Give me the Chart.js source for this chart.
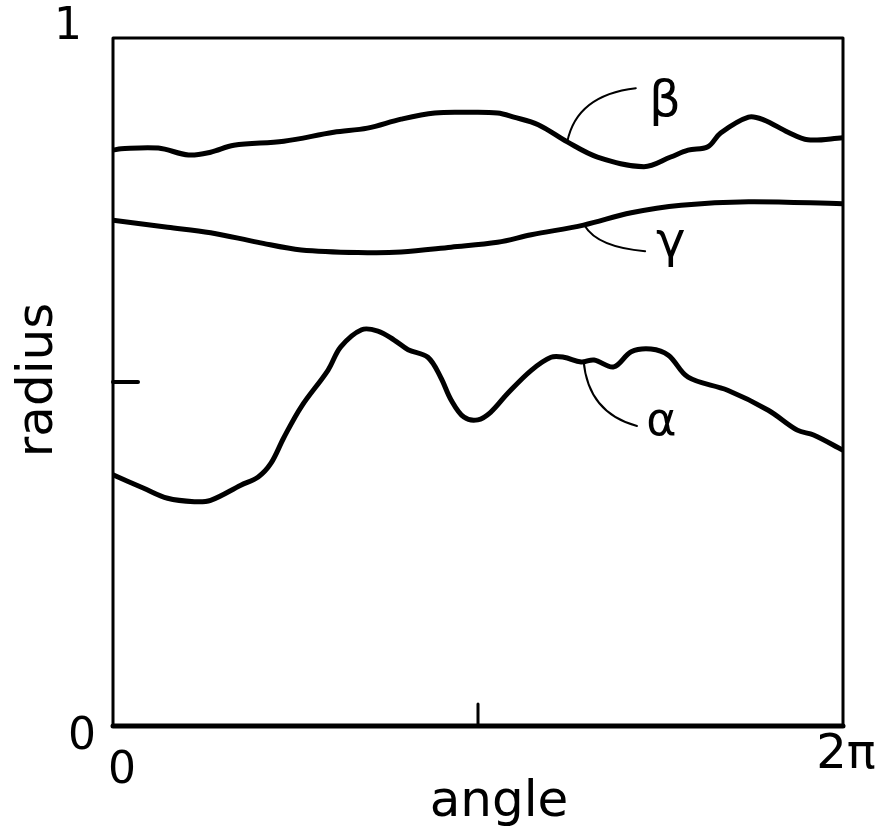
<!DOCTYPE html>
<html>
<head>
<meta charset="utf-8">
<script src="https://cdn.jsdelivr.net/npm/chart.js@4"></script>
<style>
  body { margin: 0; background: #fff; }
  #wrap { width: 885px; height: 831px; }
</style>
</head>
<body>
<div id="wrap"><canvas id="radiusChart" width="885" height="831"></canvas></div>
<script>
// values (angle in radians, radius 0..1)
const alphaAngle = [0, 0.26, 0.47, 0.70, 0.84, 1.10, 1.25, 1.36, 1.47, 1.62, 1.85, 1.96, 2.14, 2.28, 2.42, 2.54, 2.71, 2.82, 2.91, 3.02, 3.14, 3.25, 3.40, 3.60, 3.77, 3.88, 4.03, 4.14, 4.31, 4.46, 4.63, 4.78, 4.95, 5.29, 5.64, 5.89, 6.03, 6.28];
const alphaRadius = [0.365, 0.346, 0.331, 0.326, 0.328, 0.350, 0.362, 0.382, 0.419, 0.464, 0.517, 0.551, 0.576, 0.574, 0.561, 0.547, 0.536, 0.507, 0.474, 0.449, 0.445, 0.456, 0.484, 0.517, 0.536, 0.536, 0.529, 0.532, 0.522, 0.544, 0.548, 0.539, 0.507, 0.488, 0.459, 0.430, 0.423, 0.401];

const betaAngle = [0, 0.07, 0.39, 0.65, 0.84, 1.04, 1.47, 1.90, 2.19, 2.48, 2.77, 3.05, 3.31, 3.45, 3.66, 3.91, 4.17, 4.57, 4.80, 4.95, 5.12, 5.23, 5.47, 5.60, 5.81, 5.98, 6.28];
const betaRadius = [0.837, 0.839, 0.840, 0.830, 0.834, 0.844, 0.850, 0.863, 0.869, 0.882, 0.891, 0.892, 0.891, 0.885, 0.874, 0.849, 0.827, 0.813, 0.827, 0.837, 0.842, 0.862, 0.885, 0.881, 0.863, 0.852, 0.855];

const gammaAngle = [0, 0.47, 0.84, 1.25, 1.62, 2.19, 2.48, 2.91, 3.31, 3.60, 4.05, 4.46, 4.89, 5.47, 6.28];
const gammaRadius = [0.735, 0.725, 0.717, 0.703, 0.692, 0.688, 0.689, 0.696, 0.703, 0.714, 0.728, 0.746, 0.757, 0.762, 0.759];

const xTickValues = [0, Math.PI, 2 * Math.PI];
const xTickLabels = ['0', '', '2\u03C0'];
const yTickValues = [0, 0.5, 1];
const yTickLabels = ['0', '', '1'];

// curve names and the leader line to each: [start, control, end] in (angle, radius)
const curveNames = ['\u03B1', '\u03B2', '\u03B3'];
const leaders = [
    [[4.05, 0.531], [4.09, 0.455], [4.51, 0.436]],
    [[3.91, 0.849], [3.99, 0.917], [4.50, 0.927]],
    [[4.06, 0.727], [4.17, 0.696], [4.58, 0.690]]
];
const namePos = [[4.72, 0.440], [4.75, 0.906], [4.80, 0.700]];
const nameSize = [46, 50, 50];

const toPoints = (xs, ys) => xs.map((x, i) => ({ x: x, y: ys[i] }));
const FONT = '"DejaVu Sans", sans-serif';

const framePlugin = {
    id: 'frame',
    afterDatasetsDraw(chart) {
        const ctx = chart.ctx;
        const a = chart.chartArea;
        const xs = chart.scales.x;
        const ys = chart.scales.y;
        ctx.save();
        ctx.strokeStyle = '#000';
        ctx.lineCap = 'round';
        ctx.lineJoin = 'round';

        // box
        ctx.lineWidth = 3;
        ctx.beginPath();
        ctx.moveTo(a.left, a.bottom);
        ctx.lineTo(a.left, a.top);
        ctx.lineTo(a.right, a.top);
        ctx.lineTo(a.right, a.bottom);
        ctx.stroke();
        ctx.lineWidth = 5;
        ctx.beginPath();
        ctx.moveTo(a.left, a.bottom);
        ctx.lineTo(a.right, a.bottom);
        ctx.stroke();

        // inside ticks at the middle values
        ctx.lineWidth = 4;
        const ym = ys.getPixelForValue(yTickValues[1]);
        ctx.beginPath();
        ctx.moveTo(a.left, ym);
        ctx.lineTo(a.left + 25, ym);
        ctx.stroke();
        ctx.lineWidth = 3;
        const xm = xs.getPixelForValue(xTickValues[1]);
        ctx.beginPath();
        ctx.moveTo(xm, a.bottom);
        ctx.lineTo(xm, a.bottom - 22);
        ctx.stroke();

        // tick labels
        ctx.fillStyle = '#000';
        ctx.textAlign = 'center';
        ctx.textBaseline = 'middle';
        ctx.font = '44px ' + FONT;
        ctx.fillText(yTickLabels[2], a.left - 45, ys.getPixelForValue(yTickValues[2]) - 10);
        ctx.fillText(yTickLabels[0], a.left - 31, ys.getPixelForValue(yTickValues[0]) + 12);
        ctx.fillText(xTickLabels[0], xs.getPixelForValue(xTickValues[0]) + 9, a.bottom + 46);
        ctx.font = '48px ' + FONT;
        ctx.fillText(xTickLabels[2], xs.getPixelForValue(xTickValues[2]) + 3, a.bottom + 30);

        // axis titles
        ctx.font = '50px ' + FONT;
        ctx.textBaseline = 'alphabetic';
        ctx.fillText('angle', (a.left + a.right) / 2 + 21, a.bottom + 90);
        ctx.save();
        ctx.translate(52, (a.top + a.bottom) / 2 - 2);
        ctx.rotate(-Math.PI / 2);
        ctx.fillText('radius', 0, 0);
        ctx.restore();

        // leader lines and curve names
        ctx.lineWidth = 2;
        leaders.forEach((l, i) => {
            const p = l.map(q => [xs.getPixelForValue(q[0]), ys.getPixelForValue(q[1])]);
            ctx.beginPath();
            ctx.moveTo(p[0][0], p[0][1]);
            ctx.quadraticCurveTo(p[1][0], p[1][1], p[2][0], p[2][1]);
            ctx.stroke();
            ctx.font = nameSize[i] + 'px ' + FONT;
            ctx.textBaseline = 'middle';
            ctx.fillText(curveNames[i], xs.getPixelForValue(namePos[i][0]), ys.getPixelForValue(namePos[i][1]));
        });
        ctx.restore();
    }
};

const lineStyle = {
    borderColor: '#000',
    borderWidth: 5,
    pointRadius: 0,
    fill: false,
    tension: 0.35,
    borderCapStyle: 'round',
    borderJoinStyle: 'round'
};

new Chart(document.getElementById('radiusChart'), {
    type: 'line',
    data: {
        datasets: [
            Object.assign({ label: curveNames[0], data: toPoints(alphaAngle, alphaRadius) }, lineStyle),
            Object.assign({ label: curveNames[1], data: toPoints(betaAngle, betaRadius) }, lineStyle),
            Object.assign({ label: curveNames[2], data: toPoints(gammaAngle, gammaRadius) }, lineStyle)
        ]
    },
    options: {
        responsive: false,
        devicePixelRatio: 1,
        animation: false,
        layout: { padding: { left: 113, right: 42, top: 38, bottom: 105 } },
        plugins: { legend: { display: false }, tooltip: { enabled: false } },
        scales: {
            x: { type: 'linear', min: 0, max: 2 * Math.PI, display: false },
            y: { min: 0, max: 1, display: false }
        }
    },
    plugins: [framePlugin]
});
</script>
</body>
</html>
